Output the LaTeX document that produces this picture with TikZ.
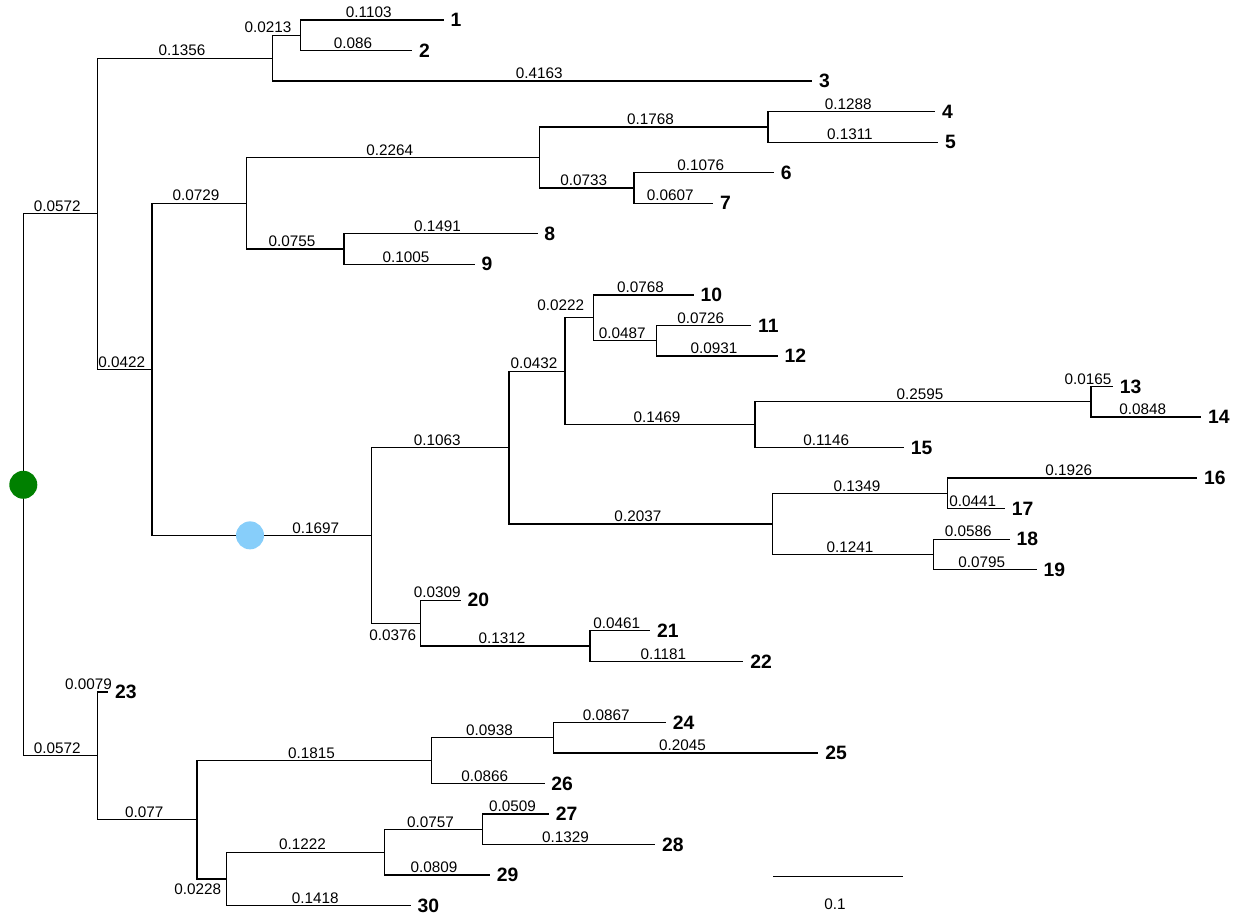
\documentclass[tikz,border=0pt]{standalone}
\usepackage{fontspec}
\setmainfont{Liberation Sans}
\usepackage{tikz}
\definecolor{root_green}{HTML}{008000}
\definecolor{mark_blue}{HTML}{87CEFA}

\begin{document}
\begin{tikzpicture}[x=25.88cm, y=-0.6108cm,
    branch/.style={line width=0.75pt, line cap=rect},
    blen/.style={font=\fontsize{8.7}{10}\selectfont, anchor=south, inner xsep=0pt, inner ysep=0.85pt, xshift=-1.7pt},
    blenbelow/.style={blen, anchor=north},
    taxon/.style={font=\fontsize{11}{12}\selectfont\bfseries, anchor=west, inner xsep=4.1pt, inner ysep=0pt},
    dot/.style={circle, minimum size=0.56cm, inner sep=0pt}]

    \useasboundingbox (-0.466cm,-0.2108cm) rectangle (24.494cm,-18.5108cm);

    % x = distance from the root, y = row of the tips
    \foreach \i/\d in {1/0.3244, 2/0.3001, 3/0.6091, 4/0.7043, 5/0.7066, 6/0.5796,
        7/0.5327, 8/0.3969, 9/0.3483, 10/0.5176, 11/0.5621, 12/0.5826, 13/0.8415,
        14/0.9098, 15/0.6801, 16/0.9066, 17/0.7581, 18/0.7618, 19/0.7827, 20/0.3376,
        21/0.4840, 22/0.5560, 23/0.0651, 24/0.4962, 25/0.6140, 26/0.4023, 27/0.4058,
        28/0.4878, 29/0.3601, 30/0.2988}
      \node[taxon] (t\i) at (\d,\i) {\i};

    % inner nodes
    \coordinate (root) at (0,16.21875);
    \coordinate (n1) at (0.0572,7.34375);
    \coordinate (n2) at (0.1928,2.25);
    \coordinate (n3) at (0.2141,1.5);
    \coordinate (n4) at (0.0994,12.4375);
    \coordinate (n5) at (0.1723,7);
    \coordinate (n6) at (0.3987,5.5);
    \coordinate (n7) at (0.5755,4.5);
    \coordinate (n8) at (0.4720,6.5);
    \coordinate (n9) at (0.2478,8.5);
    \coordinate (n10) at (0.2691,17.875);
    \coordinate (n11) at (0.3754,15);
    \coordinate (n12) at (0.4186,12.5);
    \coordinate (n13) at (0.4408,10.75);
    \coordinate (n14) at (0.4895,11.5);
    \coordinate (n15) at (0.5655,14.25);
    \coordinate (n16) at (0.8250,13.5);
    \coordinate (n17) at (0.5791,17.5);
    \coordinate (n18) at (0.7140,16.5);
    \coordinate (n19) at (0.7032,18.5);
    \coordinate (n20) at (0.3067,20.75);
    \coordinate (n21) at (0.4379,21.5);
    \coordinate (n22) at (0.0572,25.09375);
    \coordinate (n23) at (0.1342,27.1875);
    \coordinate (n24) at (0.3157,25.25);
    \coordinate (n25) at (0.4095,24.5);
    \coordinate (n26) at (0.1570,29.125);
    \coordinate (n27) at (0.2792,28.25);
    \coordinate (n28) at (0.3549,27.5);

    % upper clade
    \draw[branch] (root) |- (n1) node[blen, pos=0.75] {0.0572};
    \draw[branch] (n1) |- (n2) node[blen, pos=0.75] {0.1356};
    \draw[branch] (n2) |- (n3) node[blen, pos=0.75, xshift=-0.31cm] {0.0213};
    \draw[branch] (n3) |- (t1.west) node[blen, pos=0.75] {0.1103};
    \draw[branch] (n3) |- (t2.west) node[blen, pos=0.75] {0.086};
    \draw[branch] (n2) |- (t3.west) node[blen, pos=0.75] {0.4163};
    \draw[branch] (n1) |- (n4) node[blen, pos=0.75] {0.0422};
    \draw[branch] (n4) |- (n5) node[blen, pos=0.75] {0.0729};
    \draw[branch] (n5) |- (n6) node[blen, pos=0.75] {0.2264};
    \draw[branch] (n6) |- (n7) node[blen, pos=0.75] {0.1768};
    \draw[branch] (n7) |- (t4.west) node[blen, pos=0.75] {0.1288};
    \draw[branch] (n7) |- (t5.west) node[blen, pos=0.75] {0.1311};
    \draw[branch] (n6) |- (n8) node[blen, pos=0.75] {0.0733};
    \draw[branch] (n8) |- (t6.west) node[blen, pos=0.75] {0.1076};
    \draw[branch] (n8) |- (t7.west) node[blen, pos=0.75] {0.0607};
    \draw[branch] (n5) |- (n9) node[blen, pos=0.75] {0.0755};
    \draw[branch] (n9) |- (t8.west) node[blen, pos=0.75] {0.1491};
    \draw[branch] (n9) |- (t9.west) node[blen, pos=0.75] {0.1005};
    \draw[branch] (n4) |- (n10) node[blen, pos=0.88] {0.1697};
    \draw[branch] (n10) |- (n11) node[blen, pos=0.75] {0.1063};
    \draw[branch] (n11) |- (n12) node[blen, pos=0.75] {0.0432};
    \draw[branch] (n12) |- (n13) node[blen, pos=0.75, xshift=-0.31cm, yshift=0.1cm] {0.0222};
    \draw[branch] (n13) |- (t10.west) node[blen, pos=0.75] {0.0768};
    \draw[branch] (n13) |- (n14) node[blen, pos=0.75] {0.0487};
    \draw[branch] (n14) |- (t11.west) node[blen, pos=0.75] {0.0726};
    \draw[branch] (n14) |- (t12.west) node[blen, pos=0.75] {0.0931};
    \draw[branch] (n12) |- (n15) node[blen, pos=0.75] {0.1469};
    \draw[branch] (n15) |- (n16) node[blen, pos=0.75] {0.2595};
    \draw[branch] (n16) |- (t13.west) node[blen, pos=0.75, xshift=-0.21cm] {0.0165};
    \draw[branch] (n16) |- (t14.west) node[blen, pos=0.75] {0.0848};
    \draw[branch] (n15) |- (t15.west) node[blen, pos=0.75] {0.1146};
    \draw[branch] (n11) |- (n17) node[blen, pos=0.75] {0.2037};
    \draw[branch] (n17) |- (n18) node[blen, pos=0.75] {0.1349};
    \draw[branch] (n18) |- (t16.west) node[blen, pos=0.75] {0.1926};
    \draw[branch] (n18) |- (t17.west) node[blen, pos=0.75] {0.0441};
    \draw[branch] (n17) |- (n19) node[blen, pos=0.75] {0.1241};
    \draw[branch] (n19) |- (t18.west) node[blen, pos=0.75] {0.0586};
    \draw[branch] (n19) |- (t19.west) node[blen, pos=0.75] {0.0795};
    \draw[branch] (n10) |- (n20) node[blenbelow, pos=0.75, yshift=-0.1cm] {0.0376};
    \draw[branch] (n20) |- (t20.west) node[blen, pos=0.75] {0.0309};
    \draw[branch] (n20) |- (n21) node[blen, pos=0.75] {0.1312};
    \draw[branch] (n21) |- (t21.west) node[blen, pos=0.75] {0.0461};
    \draw[branch] (n21) |- (t22.west) node[blen, pos=0.75] {0.1181};

    % lower clade
    \draw[branch] (root) |- (n22) node[blen, pos=0.75] {0.0572};
    \draw[branch] (n22) |- (t23.west) node[blen, pos=0.75, xshift=-0.22cm] {0.0079};
    \draw[branch] (n22) |- (n23) node[blen, pos=0.75] {0.077};
    \draw[branch] (n23) |- (n24) node[blen, pos=0.75] {0.1815};
    \draw[branch] (n24) |- (n25) node[blen, pos=0.75] {0.0938};
    \draw[branch] (n25) |- (t24.west) node[blen, pos=0.75] {0.0867};
    \draw[branch] (n25) |- (t25.west) node[blen, pos=0.75] {0.2045};
    \draw[branch] (n24) |- (t26.west) node[blen, pos=0.75] {0.0866};
    \draw[branch] (n23) |- (n26) node[blenbelow, pos=0.75, xshift=-0.22cm, yshift=-0.056cm] {0.0228};
    \draw[branch] (n26) |- (n27) node[blen, pos=0.75] {0.1222};
    \draw[branch] (n27) |- (n28) node[blen, pos=0.75] {0.0757};
    \draw[branch] (n28) |- (t27.west) node[blen, pos=0.75] {0.0509};
    \draw[branch] (n28) |- (t28.west) node[blen, pos=0.75] {0.1329};
    \draw[branch] (n27) |- (t29.west) node[blen, pos=0.75] {0.0809};
    \draw[branch] (n26) |- (t30.west) node[blen, pos=0.75] {0.1418};

    \node[dot, fill=root_green] (rootdot) at (root) {};
    \node[dot, fill=mark_blue] (cutdot) at (0.1752,17.875) {};

    % scale bar
    \coordinate (sbl) at (0.5796,29.04);
    \coordinate (sbr) at (0.6796,29.04);
    \draw[branch] (sbl) -- (sbr) node[blenbelow, midway, yshift=-0.4cm] (sbtext) {0.1};

\end{tikzpicture}
\end{document}
